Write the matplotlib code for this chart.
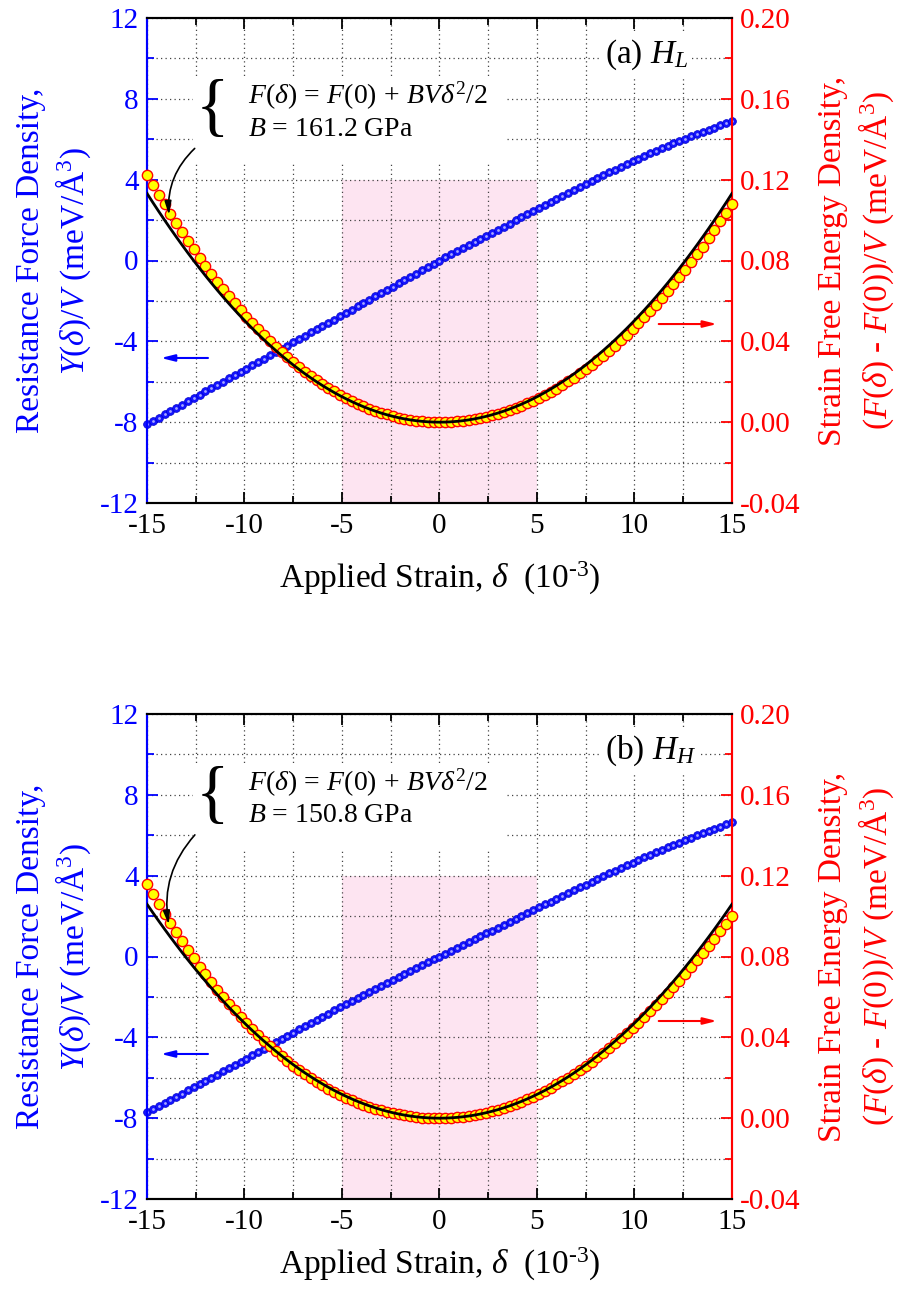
import numpy as np
import matplotlib
matplotlib.use("Agg")
import matplotlib.pyplot as plt
from matplotlib.ticker import MultipleLocator, FormatStrFormatter
from matplotlib.patches import Rectangle

plt.rcParams['font.family'] = ['Liberation Serif', 'DejaVu Serif']
plt.rcParams['mathtext.fontset'] = 'custom'
plt.rcParams['mathtext.rm'] = 'Liberation Serif'
plt.rcParams['mathtext.it'] = 'Liberation Serif:italic'
plt.rcParams['mathtext.bf'] = 'Liberation Serif:bold'
plt.rcParams['axes.unicode_minus'] = False

# ---------------- data ----------------
strain = [-15.0, -14.7, -14.4, -14.1, -13.8, -13.5, -13.2, -12.9, -12.6, -12.3,
          -12.0, -11.7, -11.4, -11.1, -10.8, -10.5, -10.2, -9.9, -9.6, -9.3,
          -9.0, -8.7, -8.4, -8.1, -7.8, -7.5, -7.2, -6.9, -6.6, -6.3,
          -6.0, -5.7, -5.4, -5.1, -4.8, -4.5, -4.2, -3.9, -3.6, -3.3,
          -3.0, -2.7, -2.4, -2.1, -1.8, -1.5, -1.2, -0.9, -0.6, -0.3,
          0.0,
          0.3, 0.6, 0.9, 1.2, 1.5, 1.8, 2.1, 2.4, 2.7, 3.0,
          3.3, 3.6, 3.9, 4.2, 4.5, 4.8, 5.1, 5.4, 5.7, 6.0,
          6.3, 6.6, 6.9, 7.2, 7.5, 7.8, 8.1, 8.4, 8.7, 9.0,
          9.3, 9.6, 9.9, 10.2, 10.5, 10.8, 11.1, 11.4, 11.7, 12.0,
          12.3, 12.6, 12.9, 13.2, 13.5, 13.8, 14.1, 14.4, 14.7, 15.0]

# panel (a) H_L : resistance force density Y/V (meV/A^3)
force_a = [-8.10, -7.94, -7.78, -7.61, -7.45, -7.29, -7.13, -6.97, -6.80, -6.64,
           -6.48, -6.32, -6.16, -5.99, -5.83, -5.67, -5.51, -5.35, -5.18, -5.02,
           -4.86, -4.70, -4.54, -4.37, -4.21, -4.05, -3.89, -3.73, -3.56, -3.40,
           -3.24, -3.08, -2.92, -2.75, -2.59, -2.43, -2.27, -2.11, -1.94, -1.78,
           -1.62, -1.46, -1.30, -1.13, -0.97, -0.81, -0.65, -0.49, -0.32, -0.16,
           0.00,
           0.15, 0.30, 0.45, 0.60, 0.76, 0.91, 1.06, 1.22, 1.37, 1.52,
           1.68, 1.83, 1.98, 2.14, 2.29, 2.44, 2.59, 2.75, 2.90, 3.05,
           3.20, 3.34, 3.49, 3.64, 3.79, 3.93, 4.07, 4.22, 4.36, 4.50,
           4.63, 4.77, 4.91, 5.04, 5.17, 5.30, 5.43, 5.55, 5.68, 5.80,
           5.92, 6.03, 6.15, 6.26, 6.37, 6.48, 6.58, 6.69, 6.78, 6.88]

# panel (a) H_L : strain free energy density (meV/A^3)
energy_a = [0.1225, 0.1175, 0.1126, 0.1078, 0.1032, 0.0986, 0.0941, 0.0898, 0.0855, 0.0814,
            0.0774, 0.0734, 0.0696, 0.0659, 0.0623, 0.0588, 0.0554, 0.0522, 0.0490, 0.0459,
            0.0429, 0.0401, 0.0373, 0.0346, 0.0321, 0.0296, 0.0272, 0.0250, 0.0228, 0.0208,
            0.0188, 0.0170, 0.0152, 0.0135, 0.0120, 0.0105, 0.0091, 0.0079, 0.0067, 0.0056,
            0.0046, 0.0038, 0.0030, 0.0023, 0.0017, 0.0012, 0.0007, 0.0004, 0.0002, 0.0000,
            0.0000,
            0.0000, 0.0002, 0.0004, 0.0007, 0.0010, 0.0015, 0.0020, 0.0026, 0.0033, 0.0041,
            0.0050, 0.0059, 0.0070, 0.0081, 0.0093, 0.0106, 0.0120, 0.0134, 0.0150, 0.0166,
            0.0184, 0.0202, 0.0221, 0.0241, 0.0262, 0.0283, 0.0306, 0.0329, 0.0354, 0.0379,
            0.0405, 0.0432, 0.0460, 0.0489, 0.0519, 0.0550, 0.0582, 0.0614, 0.0648, 0.0683,
            0.0718, 0.0754, 0.0792, 0.0830, 0.0869, 0.0910, 0.0951, 0.0993, 0.1036, 0.1080]

# panel (b) H_H
force_b = [-7.69, -7.54, -7.39, -7.24, -7.08, -6.93, -6.78, -6.62, -6.47, -6.31,
           -6.15, -6.00, -5.84, -5.68, -5.52, -5.36, -5.21, -5.05, -4.89, -4.73,
           -4.57, -4.41, -4.25, -4.09, -3.93, -3.77, -3.61, -3.46, -3.30, -3.14,
           -2.98, -2.83, -2.67, -2.51, -2.36, -2.20, -2.05, -1.90, -1.75, -1.59,
           -1.44, -1.29, -1.15, -1.00, -0.85, -0.71, -0.56, -0.42, -0.28, -0.14,
           0.00,
           0.14, 0.28, 0.43, 0.57, 0.71, 0.85, 1.00, 1.14, 1.28, 1.43,
           1.57, 1.72, 1.86, 2.00, 2.15, 2.29, 2.43, 2.58, 2.72, 2.86,
           3.00, 3.14, 3.28, 3.42, 3.56, 3.70, 3.83, 3.97, 4.11, 4.24,
           4.37, 4.51, 4.64, 4.77, 4.90, 5.02, 5.15, 5.27, 5.40, 5.52,
           5.64, 5.76, 5.88, 5.99, 6.10, 6.22, 6.33, 6.43, 6.54, 6.65]

energy_b = [0.1160, 0.1109, 0.1060, 0.1012, 0.0965, 0.0920, 0.0876, 0.0833, 0.0791, 0.0750,
            0.0711, 0.0673, 0.0636, 0.0601, 0.0566, 0.0533, 0.0500, 0.0469, 0.0439, 0.0410,
            0.0383, 0.0356, 0.0330, 0.0306, 0.0282, 0.0260, 0.0238, 0.0218, 0.0198, 0.0180,
            0.0162, 0.0146, 0.0130, 0.0116, 0.0102, 0.0089, 0.0077, 0.0066, 0.0056, 0.0047,
            0.0039, 0.0031, 0.0024, 0.0019, 0.0014, 0.0009, 0.0006, 0.0003, 0.0001, 0.0000,
            0.0000,
            0.0000, 0.0002, 0.0004, 0.0007, 0.0011, 0.0015, 0.0021, 0.0027, 0.0034, 0.0042,
            0.0051, 0.0061, 0.0071, 0.0082, 0.0094, 0.0107, 0.0121, 0.0135, 0.0151, 0.0167,
            0.0184, 0.0201, 0.0220, 0.0239, 0.0259, 0.0279, 0.0301, 0.0323, 0.0346, 0.0370,
            0.0395, 0.0420, 0.0446, 0.0473, 0.0501, 0.0529, 0.0558, 0.0588, 0.0618, 0.0649,
            0.0681, 0.0714, 0.0748, 0.0782, 0.0816, 0.0852, 0.0888, 0.0925, 0.0963, 0.1001]

bulk_modulus_gpa = [161.2, 150.8]          # fitted B shown in each panel
panel_tags = ['(a) $H_L$', '(b) $H_H$']
GPA_TO_MEV_PER_A3 = 6.2415                 # 1 GPa = 6.2415 meV/A^3

shade_strain = (-5, 5)
shade_force = (-12, 4)

# ---------------- figure ----------------
W, H = 904, 1299
fig = plt.figure(figsize=(W / 100, H / 100), dpi=100)

BLUE = '#0000FF'
RED = '#FF0000'
PINK = '#FDE4F1'

def px_rect(left, top, right, bottom):
    return [left / W, 1 - bottom / H, (right - left) / W, (bottom - top) / H]

rects = [px_rect(147, 18, 732, 503), px_rect(147, 714, 732, 1199)]
# per-panel text placement (axes fraction)
eq_y = [(0.840, 0.770, 0.808), (0.857, 0.790, 0.826)]
arrow_y = [(0.299, 0.369), (0.299, 0.367)]
call_y = [(0.735, 0.588), (0.755, 0.560)]
xlab_y = [-0.118, -0.096]

x = np.array(strain)

for i in range(2):
    ax = fig.add_axes(rects[i])
    ax2 = ax.twinx()

    ax.set_xlim(-15, 15)
    ax.set_ylim(-12, 12)
    ax2.set_ylim(-0.04, 0.20)

    # shaded fitting window
    ax.fill_between(shade_strain, shade_force[0], shade_force[1], color=PINK,
                    lw=0, zorder=0.2)
    ax.set_axisbelow(True)

    # grid on every major and minor tick
    ax.xaxis.set_major_locator(MultipleLocator(5))
    ax.xaxis.set_minor_locator(MultipleLocator(2.5))
    ax.yaxis.set_major_locator(MultipleLocator(4))
    ax.yaxis.set_minor_locator(MultipleLocator(2))
    ax2.yaxis.set_major_locator(MultipleLocator(0.04))
    ax2.yaxis.set_minor_locator(MultipleLocator(0.02))
    ax2.yaxis.set_major_formatter(FormatStrFormatter('%.2f'))
    for which in ('major', 'minor'):
        ax.grid(True, which=which, color='#444444', linestyle=(0, (1, 2.6)), lw=0.9)

    # resistance force density (left axis)
    yf = np.array([force_a, force_b][i])
    ax.plot(x, yf, 'o', ms=5.6, mfc='#1414FF', mec='#0000CC', mew=0.5,
            zorder=3, clip_on=False)
    ax.plot(x, yf, 'o', ms=2.0, mfc='#A8A8FF', mec='none', zorder=3.1, clip_on=False)

    # strain free energy density (right axis)
    ye = np.array([energy_a, energy_b][i])
    ax2.plot(x, ye, 'o', ms=7.4, mfc='#FFFF00', mec='#FF0000', mew=1.0,
             zorder=3, clip_on=False)
    # fitted parabola F(d) - F(0) = B d^2 / 2
    fit = bulk_modulus_gpa[i] * GPA_TO_MEV_PER_A3 * (x * 1e-3) ** 2 / 2
    ax2.plot(x, fit, '-', color='black', lw=2.0, zorder=4)

    # spines
    for a in (ax, ax2):
        a.spines['left'].set_color(BLUE)
        a.spines['right'].set_color(RED)
        a.spines['top'].set_color('black')
        a.spines['bottom'].set_color('black')
        for s in a.spines.values():
            s.set_linewidth(1.5)

    ax.tick_params(axis='x', which='both', direction='in', top=True, bottom=True,
                   colors='black', labelsize=21, pad=7, width=1.3)
    ax.tick_params(axis='x', which='major', length=8)
    ax.tick_params(axis='x', which='minor', length=5)
    ax.tick_params(axis='y', which='both', direction='in', left=True, right=False,
                   colors=BLUE, labelsize=21, pad=6, width=1.3)
    ax.tick_params(axis='y', which='major', length=8)
    ax.tick_params(axis='y', which='minor', length=5)
    ax2.tick_params(axis='y', which='both', direction='in', right=True, left=False,
                    colors=RED, labelsize=21, pad=6, width=1.3)
    ax2.tick_params(axis='y', which='major', length=8)
    ax2.tick_params(axis='y', which='minor', length=5)

    ax.set_xticks([-15, -10, -5, 0, 5, 10, 15])
    ax.set_yticks([-12, -8, -4, 0, 4, 8, 12])

    ax.set_xlabel('Applied Strain, $\\delta$  (10$^{\\text{-}3}$)', fontsize=24)
    ax.xaxis.set_label_coords(0.5, xlab_y[i])
    ax.xaxis.label.set_va('top')

    ax.set_ylabel('Resistance Force Density,\n$Y(\\delta)/V$ (meV/Å$^3$)',
                  fontsize=24, color=BLUE, linespacing=1.25)
    ax.yaxis.set_label_coords(-0.092, 0.5)
    ax2.set_ylabel('Strain Free Energy Density,\n($F(\\delta)$ - $F$(0))/$V$ (meV/Å$^3$)',
                   fontsize=24, color=RED, linespacing=1.25, rotation=90)
    ax2.yaxis.set_label_coords(1.147, 0.5)

    # white box behind the fit equation
    ax2.add_patch(Rectangle((0.079, 0.70 + (eq_y[i][0] - 0.840)), 0.533, 0.18,
                            transform=ax2.transAxes, facecolor='white',
                            edgecolor='none', zorder=5))
    ax2.text(0.112, eq_y[i][2], '{', transform=ax2.transAxes, fontsize=50,
             ha='center', va='center', zorder=6)
    ax2.text(0.173, eq_y[i][0], '$F(\\delta)\\,=\\,F(0)\\,+\\,BV\\delta^2/2$',
             transform=ax2.transAxes, fontsize=20, ha='left', va='center', zorder=6)
    ax2.text(0.173, eq_y[i][1], '$B$ = %.1f GPa' % bulk_modulus_gpa[i],
             transform=ax2.transAxes, fontsize=20, ha='left', va='center', zorder=6)

    # panel tag
    ax2.text(0.783, 0.925, panel_tags[i], transform=ax2.transAxes, fontsize=24,
             ha='left', va='center', zorder=6,
             bbox=dict(facecolor='white', edgecolor='none', pad=3))

    # call-out arrow from equation to fitted curve
    ax2.annotate('', xy=(0.038, call_y[i][1]), xycoords='axes fraction',
                 xytext=(0.085, call_y[i][0]), textcoords='axes fraction',
                 arrowprops=dict(arrowstyle='-|>,head_length=0.8,head_width=0.2',
                                 color='black', lw=1.2,
                                 connectionstyle='arc3,rad=0.25'), zorder=7)

    # axis indicator arrows
    ax2.annotate('', xy=(0.019, arrow_y[i][0]), xycoords='axes fraction',
                 xytext=(0.109, arrow_y[i][0]), textcoords='axes fraction',
                 arrowprops=dict(arrowstyle='-|>,head_length=0.8,head_width=0.2',
                                 color=BLUE, lw=1.5), zorder=7)
    ax2.annotate('', xy=(0.979, arrow_y[i][1]), xycoords='axes fraction',
                 xytext=(0.870, arrow_y[i][1]), textcoords='axes fraction',
                 arrowprops=dict(arrowstyle='-|>,head_length=0.8,head_width=0.2',
                                 color=RED, lw=1.5), zorder=7)

fig.savefig('out.png', dpi=100)
